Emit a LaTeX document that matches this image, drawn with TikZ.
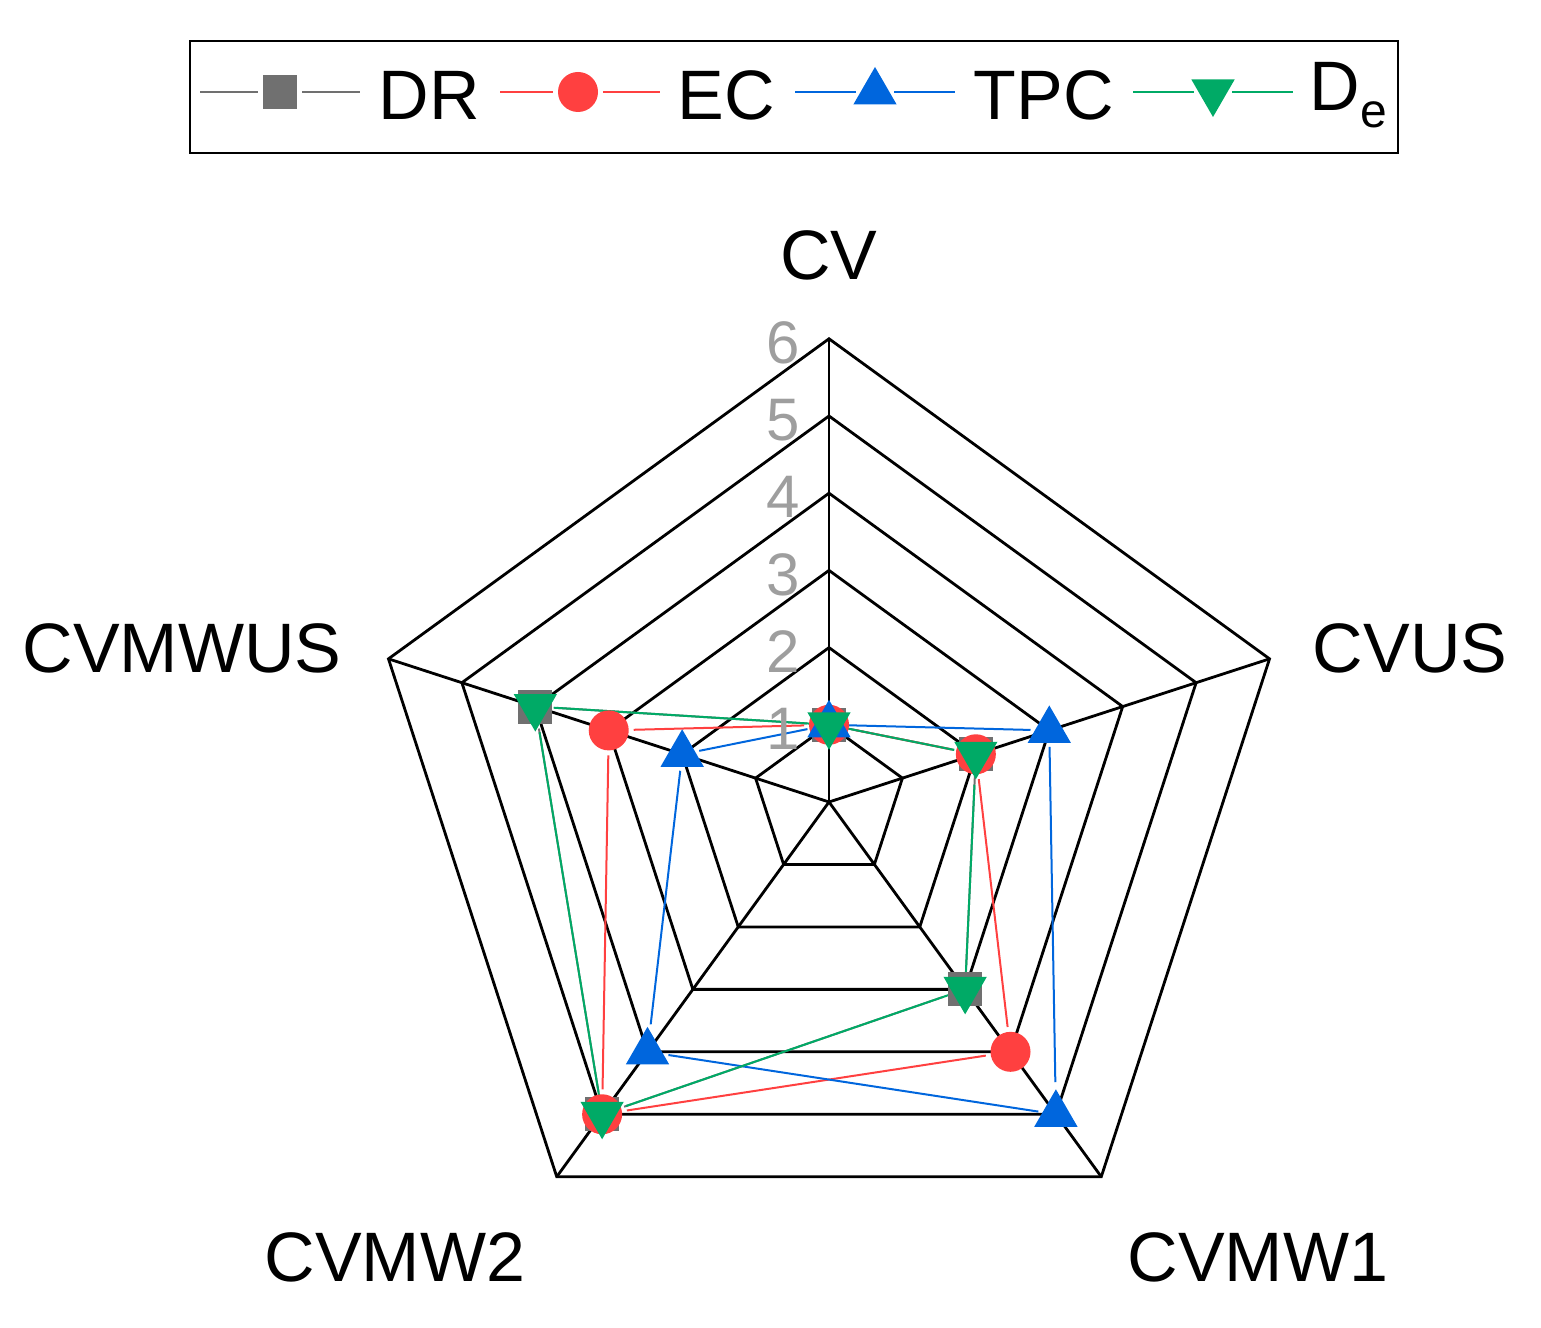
\documentclass[tikz,border=0pt]{standalone}
\usepackage{fontspec}
\setmainfont{Liberation Sans}
\usetikzlibrary{shapes.geometric}
\pgfdeclarelayer{grid}\pgfdeclarelayer{lines}
\pgfsetlayers{grid,lines,main}
\definecolor{cDR}{HTML}{707070}
\definecolor{cEC}{HTML}{FF4040}
\definecolor{cTPC}{HTML}{0066DD}
\definecolor{cDe}{HTML}{00AA66}
\tikzset{
  big/.style={font=\fontsize{70}{78}\selectfont},
  tick/.style={font=\fontsize{60}{64}\selectfont,text=black!38},
  gridl/.style={line width=2.8pt,black,line join=miter},
  ser/.style={line width=2pt},
  mDR/.style={rectangle,fill=cDR,minimum size=34pt,inner sep=0pt,outer sep=5pt},
  mEC/.style={circle,fill=cEC,minimum size=40pt,inner sep=0pt,outer sep=5pt},
  mTPC/.style={regular polygon,regular polygon sides=3,fill=cTPC,minimum size=50pt,inner sep=0pt,outer sep=4pt},
  mDe/.style={regular polygon,regular polygon sides=3,shape border rotate=180,fill=cDe,minimum size=50pt,inner sep=0pt,outer sep=4pt},
}
\begin{document}
\begin{tikzpicture}[x=1pt,y=1pt]
\useasboundingbox (0,0) rectangle (1541,1327);
% legend
\node[draw,line width=2.4pt,minimum width=1208pt,minimum height=112pt] (leg) at (794,1230) {};
\node[mDR] (lDR) at (280,1235) {};
\coordinate (lDRa) at (200,1235); \coordinate (lDRb) at (360,1235);
\draw[cDR,ser] (lDRa) -- (lDR) (lDR) -- (lDRb);
\node[big,anchor=west] (tDR) at (375,1232) {DR};
\node[mEC] (lEC) at (578,1235) {};
\coordinate (lECa) at (500,1235); \coordinate (lECb) at (660,1235);
\draw[cEC,ser] (lECa) -- (lEC) (lEC) -- (lECb);
\node[big,anchor=west] (tEC) at (674,1232) {EC};
\node[mTPC] (lTPC) at (875,1235) {};
\coordinate (lTPCa) at (795,1235); \coordinate (lTPCb) at (955,1235);
\draw[cTPC,ser] (lTPCa) -- (lTPC.west |- lTPCa) (lTPC.east |- lTPCb) -- (lTPCb);
\node[big,anchor=west] (tTPC) at (970,1232) {TPC};
\node[mDe] (lDe) at (1213,1235) {};
\coordinate (lDea) at (1133,1235); \coordinate (lDeb) at (1293,1235);
\draw[cDe,ser] (lDea) -- (lDe.west |- lDea) (lDe.east |- lDeb) -- (lDeb);
\node[big,anchor=west] (tDe) at (1306,1232) {D\textsubscript{\fontsize{48}{50}\selectfont e}};
% axis labels
\node[big] (aCV) at (829,1072) {CV};
\node[big] (aCVUS) at (1410,679) {CVUS};
\node[big] (aW1) at (1258,70) {CVMW1};
\node[big] (aW2) at (395,70) {CVMW2};
\node[big] (aWUS) at (182,679) {CVMWUS};
\begin{scope}[shift={(829,525)}]
\coordinate (O) at (0,0);
\begin{pgfonlayer}{grid}
\foreach \r in {1,...,6}
  \draw[gridl] (90:\r*77.2) -- (18:\r*77.2) -- (-54:\r*77.2) -- (-126:\r*77.2) -- (162:\r*77.2) -- cycle;
\foreach \a [count=\i] in {90,18,-54,-126,162} \coordinate (ax\i) at (\a:463.2);
\foreach \i in {1,...,5} \draw[gridl] (O) -- (ax\i);
\end{pgfonlayer}
\foreach \r in {1,...,6} \node[tick] (tk\r) at (-46,\r*77.2-4) {\r};
% series
\foreach \s/\vals in {DR/{1,2,3,5,4},EC/{1,2,4,5,3},TPC/{1,3,5,4,2},De/{1,2,3,5,4}}{
  \foreach \v [count=\i] in \vals
    \node[m\s] (\s\i) at ({90-72*(\i-1)}:{\v*77.2}) {};
  \begin{pgfonlayer}{lines}
  \draw[c\s,ser] (\s1) -- (\s2) (\s2) -- (\s3) (\s3) -- (\s4) (\s4) -- (\s5) (\s5) -- (\s1);
  \end{pgfonlayer}
}
\end{scope}
\end{tikzpicture}
\end{document}
